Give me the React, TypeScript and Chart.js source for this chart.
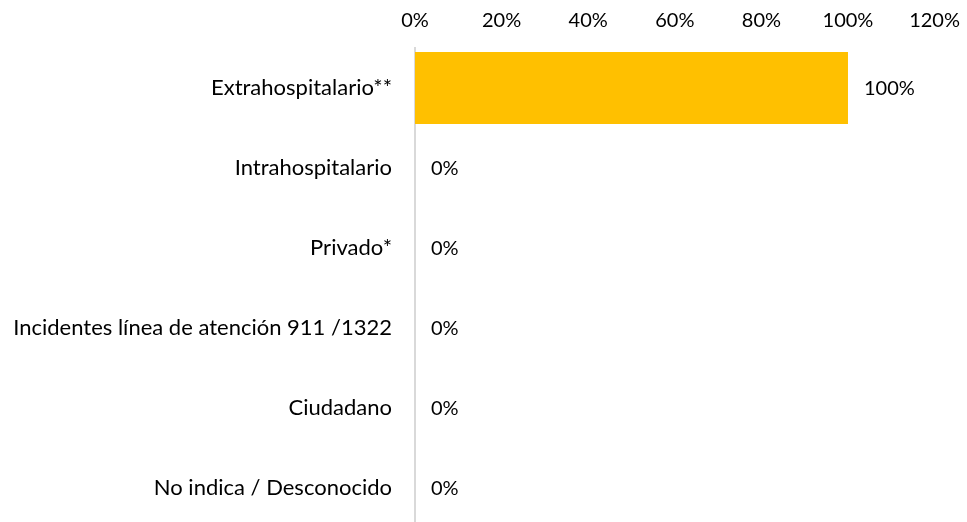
import React, { useEffect, useRef } from "react";
import { Chart, registerables } from "chart.js";

Chart.register(...registerables);

const categories = [
  "Extrahospitalario**",
  "Intrahospitalario",
  "Privado*",
  "Incidentes línea de atención 911 /1322",
  "Ciudadano",
  "No indica / Desconocido",
];
const values = [1, 0, 0, 0, 0, 0];
const xTickValues = [0, 0.2, 0.4, 0.6, 0.8, 1.0, 1.2];
const FONT = "Lato, 'Open Sans', sans-serif";

const labelPlugin = {
  id: "valueLabels",
  afterDatasetsDraw(chart: any) {
    const ctx = chart.ctx;
    const meta = chart.getDatasetMeta(0);
    ctx.save();
    ctx.font = `20px ${FONT}`;
    ctx.fillStyle = "#000";
    ctx.textBaseline = "middle";
    ctx.textAlign = "left";
    meta.data.forEach((bar: any, i: number) => {
      const v = values[i];
      ctx.fillText(Math.round(v * 100) + "%", bar.x + 16, bar.y + 1);
    });
    ctx.restore();
  },
};

export default function App() {
  const ref = useRef<HTMLCanvasElement>(null);
  useEffect(() => {
    if (!ref.current) return;
    const chart = new Chart(ref.current, {
      type: "bar",
      data: {
        labels: categories,
        datasets: [
          {
            data: values,
            backgroundColor: "#FFC000",
            barPercentage: 0.9,
            categoryPercentage: 1,
          },
        ],
      },
      options: {
        indexAxis: "y",
        animation: false,
        responsive: false,
        layout: { padding: { left: 0, right: 28, top: 0, bottom: 0 } },
        plugins: { legend: { display: false }, tooltip: { enabled: false } },
        scales: {
          x: {
            position: "top",
            min: xTickValues[0],
            max: xTickValues[xTickValues.length - 1],
            grid: { display: false },
            border: { display: false },
            afterBuildTicks: (s: any) => {
              s.ticks = xTickValues.map((v) => ({ value: v }));
            },
            ticks: {
              color: "#000",
              font: { family: FONT, size: 20 },
              callback: (v: any) => Math.round(Number(v) * 100) + "%",
              padding: 7,
            },
            afterFit: (s: any) => {
              s.height = 48;
            },
          },
          y: {
            grid: { display: false },
            border: { display: true, color: "#d9d9d9", width: 2 },
            ticks: {
              color: "#000",
              font: { family: FONT, size: 22 },
              padding: 15,
            },
            afterFit: (s: any) => {
              s.width = 415;
            },
          },
        },
      },
      plugins: [labelPlugin],
    });
    return () => chart.destroy();
  }, []);
  return (
    <div style={{ position: "fixed", left: 0, top: 0, width: 967, height: 522, overflow: "hidden", background: "#fff" }}>
      <canvas ref={ref} width={967} height={556} style={{ display: "block" }} />
    </div>
  );
}
